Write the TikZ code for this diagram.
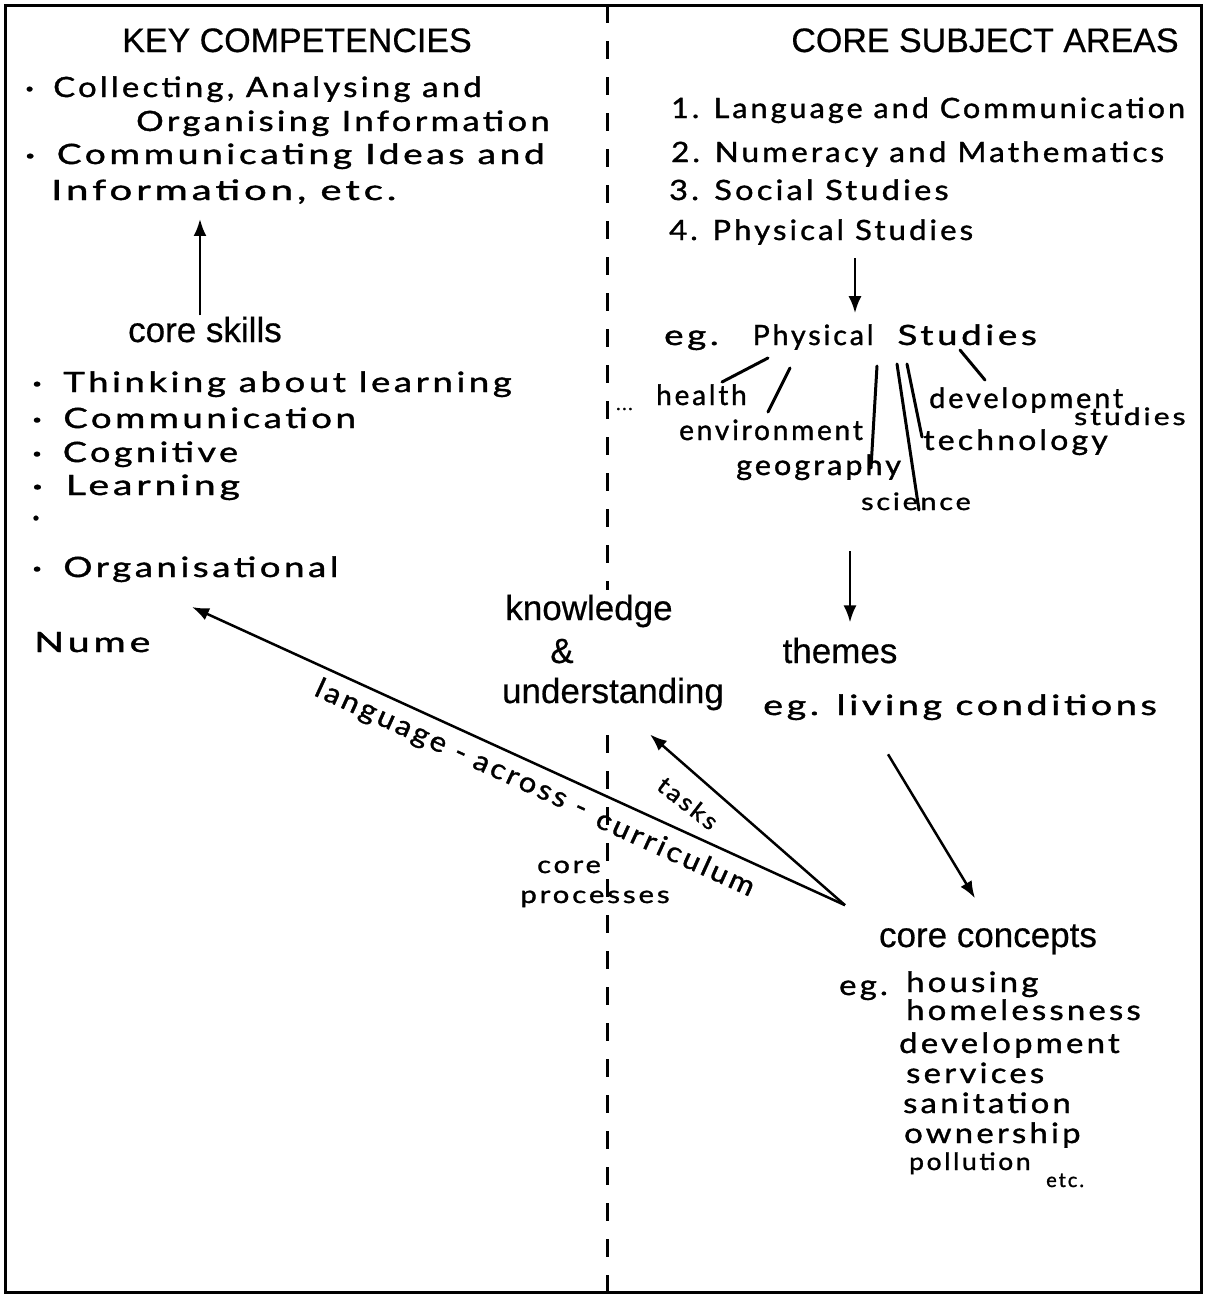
\documentclass[tikz,border=0pt]{standalone}
\usepackage{fontspec}
\setmainfont[FakeBold=0.5]{Liberation Sans}
\newfontfamily\handfont[LetterSpace=10,FakeBold=1.2]{Lato}
\usetikzlibrary{arrows.meta}
\newcommand{\bul}{\makebox[24pt][l]{\raisebox{4pt}{\fontsize{13}{13}\selectfont\textbullet}}}
\newcommand{\hw}[2][1]{\scalebox{#1}[1]{#2}}

\begin{document}
\begin{tikzpicture}[
  x=1pt,y=-1pt,
  heading/.style={font=\fontsize{34}{38}\selectfont,inner sep=1pt,anchor=base},
  printed/.style={font=\fontsize{35}{38}\selectfont,inner sep=1pt,anchor=base},
  hand/.style={font=\handfont\fontsize{28}{30}\selectfont,inner sep=1pt,anchor=base west},
  handsm/.style={hand,font=\handfont\fontsize{24}{26}\selectfont},
  arr/.style={-{Latex[length=17pt,width=13pt]},line width=2.5pt},
  branch/.style={line width=3pt,line cap=round}
]
\useasboundingbox (0,0) rectangle (1207,1299);
% frame and divider
\draw[line width=3pt] (5,5) rectangle (1201,1292);
\draw[line width=3pt,dash pattern=on 18pt off 18pt] (607,5) -- (607,590);
\draw[line width=3pt,dash pattern=on 18pt off 18pt] (607,735) -- (607,1292);

% left half
\node[heading] (keyc) at (297,52) {KEY COMPETENCIES};
\node[hand] (kc1) at (24,97) {\hw[1.17]{\bul Collecting, Analysing and}};
\node[hand] (kc2) at (135,131) {\hw[1.23]{Organising Information}};
\node[hand] (kc3) at (24,164) {\hw[1.32]{\bul Communicating Ideas and}};
\node[hand] (kc4) at (50,200) {\hw[1.43]{Information, etc.}};

\node[printed] (skills) at (205,342) {core skills};
\node[hand] (sk1) at (31,392) {\hw[1.3]{\bul Thinking about learning}};
\node[hand] (sk2) at (31,428) {\hw[1.3]{\bul Communication}};
\node[hand] (sk3) at (31,462) {\hw[1.28]{\bul Cognitive}};
\node[hand] (sk4) at (31,495) {\hw[1.4]{\bul Learning}};
\node[hand] (sk5) at (31,526) {\bul};
\node[hand] (sk6) at (31,577) {\hw[1.3]{\bul Organisational}};
\node[hand] (nume) at (33,652) {\hw[1.4]{Nume}};

% middle
\node[printed] (know) at (589,620) {knowledge};
\node[printed] (amp) at (562,663) {\&};
\node[printed] (under) at (613,703) {understanding};
\node[handsm,anchor=base] (core) at (569,873) {\hw[1.2]{core}};
\node[handsm,anchor=base] (proc) at (595,903) {\hw[1.22]{processes}};

% right half
\node[heading] (coresa) at (985,52) {CORE SUBJECT AREAS};
\node[hand] (cs1) at (670,118) {\hw[1.09]{1. Language and Communication}};
\node[hand] (cs2) at (670,162) {\hw[1.12]{2. Numeracy and Mathematics}};
\node[hand] (cs3) at (668,200) {\hw[1.16]{3. Social Studies}};
\node[hand] (cs4) at (668,240) {\hw[1.11]{4. Physical Studies}};

\node[hand] (egphys) at (663,345) {\hw[1.31]{eg.}\hspace{34pt}\hw[1.02]{Physical}\hspace{24pt}\hw[1.31]{Studies}};
\node[handsm,font=\handfont\fontsize{18}{18}\selectfont] (more) at (615,410) {...};
\node[hand] (health) at (655,405) {health};
\node[hand] (env) at (678,440) {environment};
\node[hand] (geog) at (735,475) {\hw[1.09]{geography}};
\node[handsm] (sci) at (860,510) {\hw[1.19]{science}};
\node[hand] (devel) at (928,408) {\hw[1.03]{development}};
\node[handsm] (stud) at (1073,425) {\hw[1.25]{studies}};
\node[hand] (tech) at (922,450) {\hw[1.14]{technology}};

\node[printed] (themes) at (840,663) {themes};
\node[hand] (living) at (762,715) {\hw[1.34]{eg. living conditions}};
\node[printed] (concepts) at (988,947) {core concepts};
\node[hand] (egcc) at (838,995) {\hw[1.17]{eg.}};
\node[hand] (cc1) at (905,992) {\hw[1.17]{housing}};
\node[hand] (cc2) at (905,1020) {\hw[1.17]{homelessness}};
\node[hand] (cc3) at (898,1053) {\hw[1.17]{development}};
\node[hand] (cc4) at (905,1083) {\hw[1.17]{services}};
\node[hand] (cc5) at (902,1113) {\hw[1.17]{sanitation}};
\node[hand] (cc6) at (903,1143) {\hw[1.17]{ownership}};
\node[handsm] (cc7) at (908,1170) {\hw[1.1]{pollution}};
\node[handsm,font=\handfont\fontsize{20}{22}\selectfont] (etc) at (1045,1187) {etc.};

% subject branches
\draw[branch] (768,358) -- (722,382);
\draw[branch] (790,368) -- (768,412);
\draw[branch] (877,366) -- (871,468);
\draw[branch] (897,364) -- (919,510);
\draw[branch] (907,364) -- (922,437);
\draw[branch] (960,350) -- (985,380);

% arrows
\coordinate (xa) at (200,0);
\coordinate (xb) at (855,0);
\coordinate (xc) at (850,0);
\coordinate (hub) at ([xshift=-143pt,yshift=18pt]concepts.north);
\coordinate (skl) at (192,607);
\coordinate (ku) at ([xshift=37pt,yshift=-23pt]under.south);
\draw[arr,shorten >=14pt] (skills.north -| xa) -- (kc4.south -| xa);
\draw[arr,shorten <=12pt,shorten >=10pt] (cs4.south -| xb) -- (egphys.north -| xb);
\draw[arr,shorten <=40pt,shorten >=14pt] (sci.south -| xc) -- (themes.north -| xc);
\draw[arr] ([xshift=-72pt,yshift=-33pt]living.south) -- ([xshift=-13pt,yshift=25pt]concepts.north);
\draw[arr] (hub) -- (skl);
\draw[arr] (hub) -- (ku);
\node[hand,anchor=center,rotate=-24.5] (lac1) at (391,722) {\hw[1.1]{language -}};
\node[hand,anchor=center,rotate=-24.5] (lac2) at (530,786) {\hw[1.1]{across -}};
\node[hand,anchor=center,rotate=-24.5] (lac3) at (676,852) {\hw[1.1]{curriculum}};
\node[handsm,anchor=center,rotate=-38] (tasks) at (688,803) {\hw[1.1]{tasks}};
\end{tikzpicture}
\end{document}
